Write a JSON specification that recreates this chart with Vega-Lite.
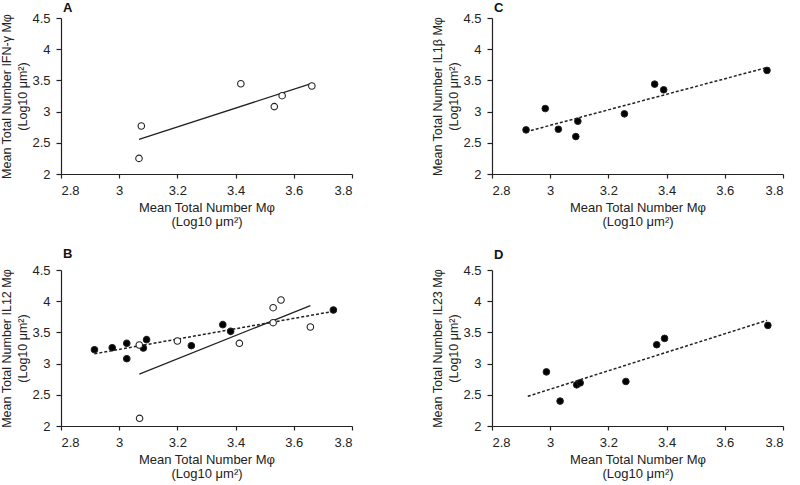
{
  "$schema": "https://vega.github.io/schema/vega-lite/v6.json",
  "padding": {"left": 0, "top": 1, "right": 5, "bottom": 0},
  "background": "white",
  "config": {
    "view": {"stroke": null},
    "font": "Liberation Sans",
    "axis": {
      "grid": false,
      "domainColor": "#222",
      "domainWidth": 1.2,
      "tickColor": "#222",
      "tickWidth": 1.2,
      "labelFont": "Liberation Sans",
      "labelFontSize": 13,
      "labelColor": "#222",
      "labelOverlap": false,
      "titleFont": "Liberation Sans",
      "titleFontWeight": "normal",
      "titleColor": "#222"
    },
    "axisX": {"tickSize": 4, "labelPadding": 6, "titlePadding": 4, "titleFontSize": 13, "titleLineHeight": 14.5},
    "axisY": {"tickSize": 5, "labelPadding": 6, "titlePadding": 2, "titleFontSize": 12.5, "titleLineHeight": 16},
    "title": {"anchor": "start", "frame": "group", "fontSize": 13, "fontWeight": "bold", "font": "Liberation Sans", "color": "#111", "dx": 2}
  },
  "datasets": {
    "pts": [
      {"p": "A", "g": "open", "x": 3.076, "y": 2.77},
      {"p": "A", "g": "open", "x": 3.068, "y": 2.25},
      {"p": "A", "g": "open", "x": 3.418, "y": 3.447},
      {"p": "A", "g": "open", "x": 3.533, "y": 3.08},
      {"p": "A", "g": "open", "x": 3.56, "y": 3.255},
      {"p": "A", "g": "open", "x": 3.662, "y": 3.41},
      {"p": "C", "g": "filled", "x": 2.917, "y": 2.707},
      {"p": "C", "g": "filled", "x": 2.983, "y": 3.049},
      {"p": "C", "g": "filled", "x": 3.028, "y": 2.717},
      {"p": "C", "g": "filled", "x": 3.088, "y": 2.6},
      {"p": "C", "g": "filled", "x": 3.095, "y": 2.846},
      {"p": "C", "g": "filled", "x": 3.255, "y": 2.964},
      {"p": "C", "g": "filled", "x": 3.359, "y": 3.44},
      {"p": "C", "g": "filled", "x": 3.39, "y": 3.349},
      {"p": "C", "g": "filled", "x": 3.745, "y": 3.66},
      {"p": "B", "g": "filled", "x": 2.915, "y": 3.223},
      {"p": "B", "g": "filled", "x": 2.976, "y": 3.255},
      {"p": "B", "g": "filled", "x": 3.026, "y": 3.325},
      {"p": "B", "g": "filled", "x": 3.026, "y": 3.079},
      {"p": "B", "g": "filled", "x": 3.083, "y": 3.25},
      {"p": "B", "g": "filled", "x": 3.094, "y": 3.384},
      {"p": "B", "g": "filled", "x": 3.248, "y": 3.287},
      {"p": "B", "g": "filled", "x": 3.356, "y": 3.624},
      {"p": "B", "g": "filled", "x": 3.383, "y": 3.517},
      {"p": "B", "g": "filled", "x": 3.736, "y": 3.859},
      {"p": "B", "g": "open", "x": 3.069, "y": 3.298},
      {"p": "B", "g": "open", "x": 3.07, "y": 2.123},
      {"p": "B", "g": "open", "x": 3.2, "y": 3.362},
      {"p": "B", "g": "open", "x": 3.413, "y": 3.325},
      {"p": "B", "g": "open", "x": 3.529, "y": 3.896},
      {"p": "B", "g": "open", "x": 3.556, "y": 4.019},
      {"p": "B", "g": "open", "x": 3.529, "y": 3.656},
      {"p": "B", "g": "open", "x": 3.657, "y": 3.587},
      {"p": "D", "g": "filled", "x": 2.987, "y": 2.867},
      {"p": "D", "g": "filled", "x": 3.034, "y": 2.399},
      {"p": "D", "g": "filled", "x": 3.091, "y": 2.66},
      {"p": "D", "g": "filled", "x": 3.103, "y": 2.691},
      {"p": "D", "g": "filled", "x": 3.26, "y": 2.713},
      {"p": "D", "g": "filled", "x": 3.366, "y": 3.303},
      {"p": "D", "g": "filled", "x": 3.393, "y": 3.404},
      {"p": "D", "g": "filled", "x": 3.748, "y": 3.612}
    ]
  },
  "data": {"name": "pts"},
  "bounds": "flush",
  "columns": 2,
  "spacing": {"row": 96, "column": 140},
  "concat": [
    {
      "width": 291, "height": 156,
      "title": {"text": "A", "offset": -2.5},
      "transform": [{"filter": "datum.p === 'A'"}],
      "encoding": {
        "x": {"field": "x", "type": "quantitative", "scale": {"domain": [2.8, 3.8]}, "axis": {"values": [2.8, 3, 3.2, 3.4, 3.6, 3.8], "format": "~g", "title": ["Mean Total Number Mφ", "(Log10 μm²)"]}},
        "y": {"field": "y", "type": "quantitative", "scale": {"domain": [2, 4.5]}, "axis": {"values": [2, 2.5, 3, 3.5, 4, 4.5], "format": "~g", "title": ["Mean Total Number IFN-γ Mφ", "(Log10 μm²)"]}}
      },
      "layer": [
        {
          "transform": [{"filter": "datum.g === 'open'"}, {"regression": "y", "on": "x"}],
          "mark": {"type": "line", "color": "#222", "strokeWidth": 1.3}
        },
        {
          "mark": {"type": "point", "shape": "circle", "filled": true, "size": 42, "stroke": "#222", "strokeWidth": 1.1, "opacity": 1},
          "encoding": {"fill": {"condition": {"test": "datum.g === 'open'", "value": "white"}, "value": "black"}}
        }
      ]
    },
    {
      "width": 291, "height": 156,
      "title": {"text": "C", "offset": -2.5},
      "transform": [{"filter": "datum.p === 'C'"}],
      "encoding": {
        "x": {"field": "x", "type": "quantitative", "scale": {"domain": [2.8, 3.8]}, "axis": {"values": [2.8, 3, 3.2, 3.4, 3.6, 3.8], "format": "~g", "title": ["Mean Total Number Mφ", "(Log10 μm²)"]}},
        "y": {"field": "y", "type": "quantitative", "scale": {"domain": [2, 4.5]}, "axis": {"values": [2, 2.5, 3, 3.5, 4, 4.5], "format": "~g", "title": ["Mean Total Number IL1β Mφ", "(Log10 μm²)"]}}
      },
      "layer": [
        {
          "transform": [{"filter": "datum.g === 'filled'"}, {"regression": "y", "on": "x"}],
          "mark": {"type": "line", "color": "#222", "strokeWidth": 1.5, "strokeDash": [3, 2]}
        },
        {
          "mark": {"type": "point", "shape": "circle", "filled": true, "size": 44, "stroke": "#222", "strokeWidth": 1, "opacity": 1},
          "encoding": {"fill": {"condition": {"test": "datum.g === 'open'", "value": "white"}, "value": "black"}}
        }
      ]
    },
    {
      "width": 291, "height": 156,
      "title": {"text": "B", "offset": 3},
      "transform": [{"filter": "datum.p === 'B'"}],
      "encoding": {
        "x": {"field": "x", "type": "quantitative", "scale": {"domain": [2.8, 3.8]}, "axis": {"values": [2.8, 3, 3.2, 3.4, 3.6, 3.8], "format": "~g", "title": ["Mean Total Number Mφ", "(Log10 μm²)"]}},
        "y": {"field": "y", "type": "quantitative", "scale": {"domain": [2, 4.5]}, "axis": {"values": [2, 2.5, 3, 3.5, 4, 4.5], "format": "~g", "title": ["Mean Total Number IL12 Mφ", "(Log10 μm²)"]}}
      },
      "layer": [
        {
          "transform": [{"filter": "datum.g === 'open'"}, {"regression": "y", "on": "x"}],
          "mark": {"type": "line", "color": "#222", "strokeWidth": 1.3}
        },
        {
          "transform": [{"filter": "datum.g === 'filled'"}, {"regression": "y", "on": "x"}],
          "mark": {"type": "line", "color": "#222", "strokeWidth": 1.5, "strokeDash": [3, 2]}
        },
        {
          "mark": {"type": "point", "shape": "circle", "filled": true, "size": 42, "stroke": "#222", "strokeWidth": 1.1, "opacity": 1},
          "encoding": {"fill": {"condition": {"test": "datum.g === 'open'", "value": "white"}, "value": "black"}}
        }
      ]
    },
    {
      "width": 291, "height": 156,
      "title": {"text": "D", "offset": 2.5},
      "transform": [{"filter": "datum.p === 'D'"}],
      "encoding": {
        "x": {"field": "x", "type": "quantitative", "scale": {"domain": [2.8, 3.8]}, "axis": {"values": [2.8, 3, 3.2, 3.4, 3.6, 3.8], "format": "~g", "title": ["Mean Total Number Mφ", "(Log10 μm²)"]}},
        "y": {"field": "y", "type": "quantitative", "scale": {"domain": [2, 4.5]}, "axis": {"values": [2, 2.5, 3, 3.5, 4, 4.5], "format": "~g", "title": ["Mean Total Number IL23 Mφ", "(Log10 μm²)"]}}
      },
      "layer": [
        {
          "transform": [{"filter": "datum.g === 'filled'"}, {"regression": "y", "on": "x", "extent": [2.923, 3.745]}],
          "mark": {"type": "line", "color": "#222", "strokeWidth": 1.5, "strokeDash": [3, 2]}
        },
        {
          "mark": {"type": "point", "shape": "circle", "filled": true, "size": 44, "stroke": "#222", "strokeWidth": 1, "opacity": 1},
          "encoding": {"fill": {"condition": {"test": "datum.g === 'open'", "value": "white"}, "value": "black"}}
        }
      ]
    }
  ]
}
